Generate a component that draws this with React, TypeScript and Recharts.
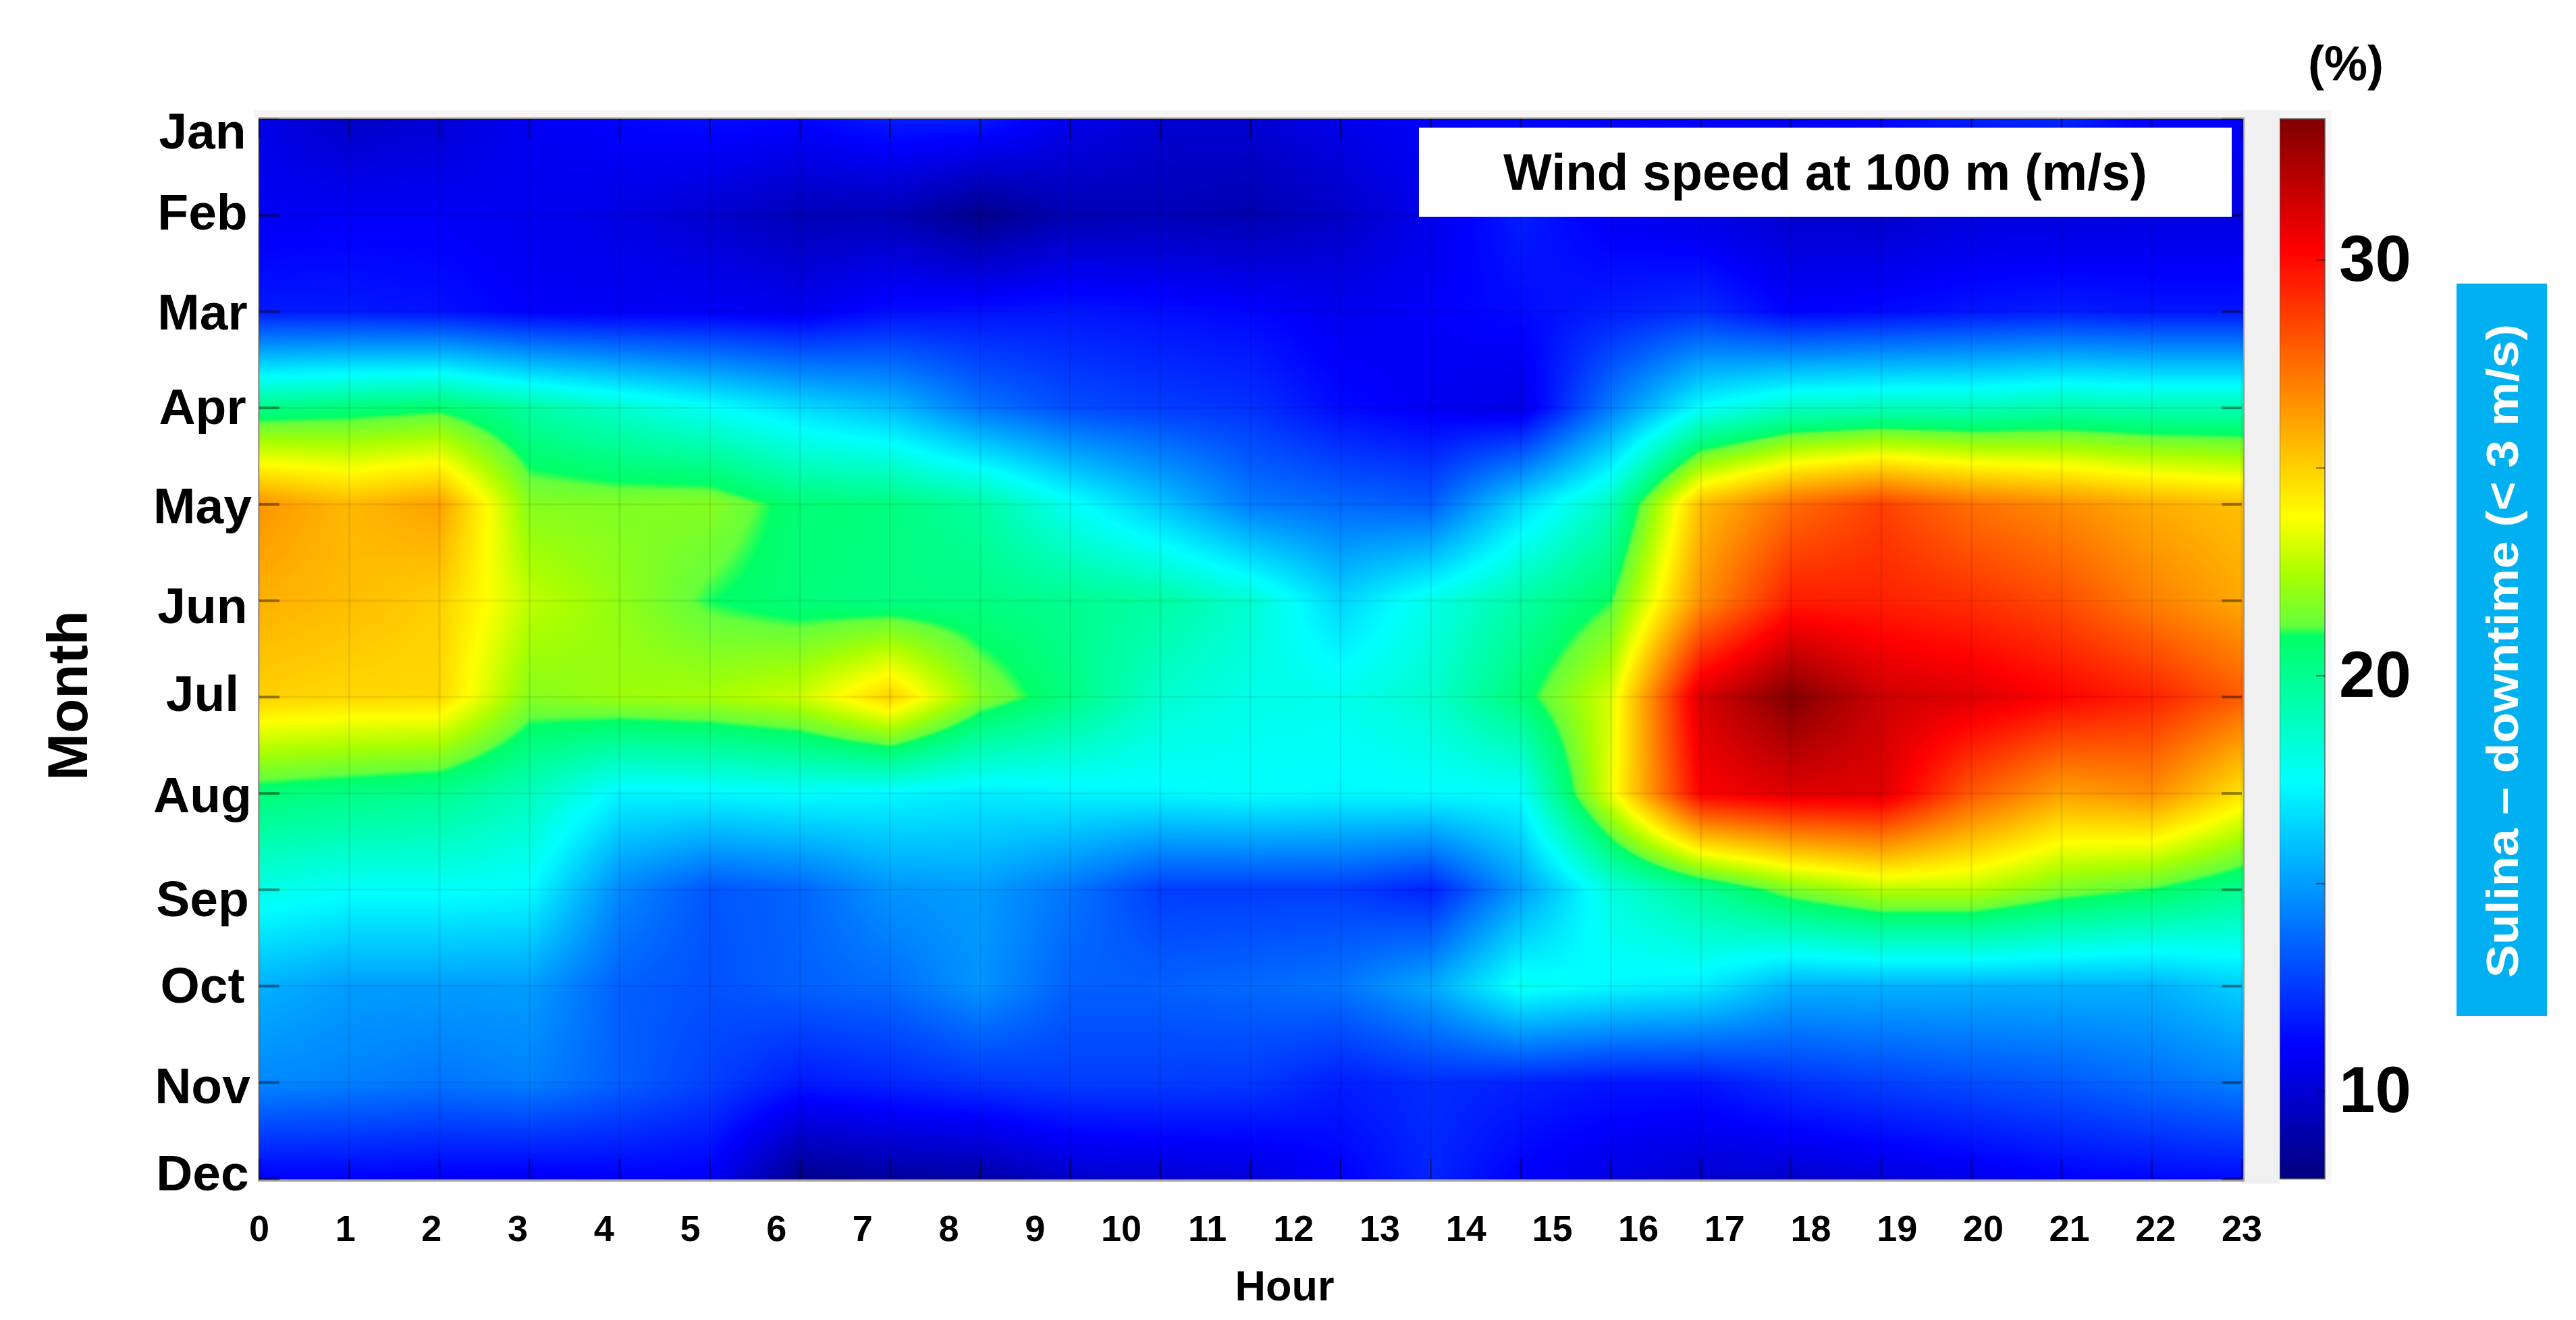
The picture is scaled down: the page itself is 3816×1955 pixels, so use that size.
import React from 'react';
import { ScatterChart, Scatter, XAxis, YAxis, BarChart, Bar } from 'recharts';

// downtime (%), one list per month, 23 columns
const jan = [10.5, 9.7, 10, 10.8, 11.2, 11.4, 11.2, 11.8, 11.8, 10.6, 10, 10, 10.6, 11, 11.2, 11, 11, 10.8, 11.3, 11.8, 12, 11, 11];
const feb = [10.8, 10.9, 10.9, 10.7, 10.4, 9.9, 9.3, 9.3, 8.2, 9.2, 9.3, 9.1, 9.7, 10.6, 11.8, 10.8, 10.4, 9.9, 9.8, 10.2, 10.2, 10.3, 10.3];
const mar = [11.7, 11.7, 11.5, 11, 10.9, 10.9, 10.7, 11.4, 11.5, 11.6, 11.4, 11.2, 10.7, 11, 11.3, 11.8, 12.2, 11.1, 11.3, 11.6, 11.8, 11.6, 11.6];
const apr = [20.2, 20.5, 20.8, 19.6, 18.6, 17.6, 16.6, 15.8, 14, 13, 12.6, 12.3, 11.3, 10.8, 10.4, 14.2, 17.5, 18.8, 19, 19, 19.4, 19.2, 19.2];
const may = [26.5, 25.6, 26.2, 21.8, 21.7, 21.8, 20.6, 20.4, 19.6, 17.7, 16, 14.2, 13.7, 13.4, 16.5, 19, 25.5, 27.5, 28.6, 27.4, 26.7, 25.9, 25.4];
const jun = [25.8, 25.5, 25, 22.8, 22, 21, 20.5, 20.3, 20.3, 20, 19.6, 18.5, 16.4, 18, 19.5, 21, 26.6, 29.5, 29.4, 29, 28.3, 27, 26];
const jul = [25, 24.8, 24.8, 21.8, 22.2, 22.4, 23, 25, 21.8, 20.3, 18.6, 18, 17.9, 18.6, 20.6, 23.2, 31.2, 33.4, 31.5, 31, 30.2, 29.4, 27.9];
const aug = [20.6, 20.3, 20, 19, 17.2, 17.3, 17.5, 17.3, 17, 17.2, 17.3, 17.5, 17.3, 17.4, 17.5, 23.5, 30.3, 31, 31, 28, 26.2, 26.7, 24.5];
const sep = [18, 17.6, 17.6, 17.4, 14.5, 13.2, 13.6, 14.8, 15, 14, 12.6, 12.6, 12.6, 11.9, 15, 18.2, 19.8, 21.6, 22.7, 22.7, 21.6, 21, 20];
const oct = [15.5, 15, 15, 15, 13.5, 13.1, 13.5, 13.8, 14.8, 13.5, 13.5, 13.7, 14, 15.3, 17.8, 17.3, 17, 15.5, 15.5, 15.5, 15.5, 15.5, 16.3];
const nov = [14.5, 14.3, 14, 14.3, 13.5, 12.7, 11.7, 12, 12.4, 12.6, 12.6, 12.5, 11.8, 12.2, 11.9, 11.6, 11.6, 12.3, 12.7, 13, 13.3, 13.8, 14.3];
const dec = [11, 11, 10.9, 10.8, 11, 10.9, 8.2, 8.7, 8.8, 9.8, 10, 10.2, 11, 12, 11, 10.4, 9.9, 9.9, 10.2, 10.6, 11, 11.2, 11.3];

const months = ['Jan', 'Feb', 'Mar', 'Apr', 'May', 'Jun', 'Jul', 'Aug', 'Sep', 'Oct', 'Nov', 'Dec'];
const hours = [0, 1, 2, 3, 4, 5, 6, 7, 8, 9, 10, 11, 12, 13, 14, 15, 16, 17, 18, 19, 20, 21, 22, 23];
const columns = [0, 1, 2, 3, 4, 5, 6, 7, 8, 9, 10, 11, 12, 13, 14, 15, 16, 17, 18, 19, 20, 21, 22];
const rows = [0, 1, 2, 3, 4, 5, 6, 7, 8, 9, 10, 11];
const grid = [jan, feb, mar, apr, may, jun, jul, aug, sep, oct, nov, dec];

// month labels were placed by hand in the original, they sit off their ticks
const monthNudge = [18, -5, 1, -2, 2, 7, -5, 2, 13, -2, 5, -9];

const scaleTicks = [10, 15, 20, 25, 30];
const scaleRange = [7.9, 33.4];
const scaleStops = [
  { at: 0, color: '#00007f' },
  { at: 0.125, color: '#0000ff' },
  { at: 0.375, color: '#00ffff' },
  { at: 0.512, color: '#00ff66' },
  { at: 0.522, color: '#66ff3c' },
  { at: 0.57, color: '#a8ff00' },
  { at: 0.625, color: '#ffff00' },
  { at: 0.875, color: '#ff0000' },
  { at: 1, color: '#800000' },
];

const FONT = '"Liberation Sans", Arial, sans-serif';
const WIDTH = 3816;
const HEIGHT = 1955;
const LEFT = 384;
const TOP = 176;
const PLOT_W = 2937;
const PLOT_H = 1570;
const STEP_X = PLOT_W / (columns.length - 1);
const STEP_Y = PLOT_H / (rows.length - 1);

const cellData = rows.flatMap((monthIndex) =>
  columns.map((hourIndex) => ({ hourIndex, monthIndex, value: grid[monthIndex][hourIndex] })),
);
const hourData = hours.map((hour) => ({ hour, monthIndex: 0 }));

const stopRgb = scaleStops.map((s) => {
  const n = parseInt(s.color.slice(1), 16);
  return [(n >> 16) & 255, (n >> 8) & 255, n & 255];
});

function colorFor(v: number) {
  const t = Math.min(1, Math.max(0, (v - scaleRange[0]) / (scaleRange[1] - scaleRange[0])));
  let k = 0;
  while (k < scaleStops.length - 2 && t > scaleStops[k + 1].at) k++;
  const f = (t - scaleStops[k].at) / (scaleStops[k + 1].at - scaleStops[k].at);
  return stopRgb[k].map((c, j) => c + (stopRgb[k + 1][j] - c) * f);
}

// shaded patch between one grid node and its right/lower neighbours
function patchImage(col: number, row: number) {
  const w = Math.ceil(STEP_X) + 1;
  const h = Math.ceil(STEP_Y) + 1;
  const canvas = document.createElement('canvas');
  canvas.width = w;
  canvas.height = h;
  const ctx = canvas.getContext('2d');
  const img = ctx.createImageData(w, h);
  const a = grid[row][col];
  const b = grid[row][col + 1];
  const c = grid[row + 1][col];
  const d = grid[row + 1][col + 1];
  for (let py = 0; py < h; py++) {
    const v = Math.min(1, (py + 0.5) / STEP_Y);
    for (let px = 0; px < w; px++) {
      const u = Math.min(1, (px + 0.5) / STEP_X);
      const val = a * (1 - u) * (1 - v) + b * u * (1 - v) + c * (1 - u) * v + d * u * v;
      const rgb = colorFor(val);
      const i = (py * w + px) * 4;
      img.data[i] = rgb[0];
      img.data[i + 1] = rgb[1];
      img.data[i + 2] = rgb[2];
      img.data[i + 3] = 255;
    }
  }
  ctx.putImageData(img, 0, 0);
  return { href: canvas.toDataURL(), w, h };
}

function HeatCell(props: any) {
  const { cx, cy, payload } = props;
  const { hourIndex, monthIndex } = payload;
  if (hourIndex === columns.length - 1 || monthIndex === rows.length - 1) return null;
  const p = patchImage(hourIndex, monthIndex);
  return <image x={Math.round(cx)} y={Math.round(cy)} width={p.w} height={p.h} href={p.href} />;
}

function ColumnTick(props: any) {
  const { x, y } = props;
  return (
    <g>
      <line x1={x} x2={x} y1={y} y2={y - PLOT_H} stroke="rgba(0,0,0,0.08)" strokeWidth={3} />
      <line x1={x} x2={x} y1={y} y2={y - 29} stroke="rgba(0,0,0,0.45)" strokeWidth={2.5} />
      <line x1={x} x2={x} y1={y - PLOT_H} y2={y - PLOT_H + 29} stroke="rgba(0,0,0,0.45)" strokeWidth={2.5} />
    </g>
  );
}

function HourTick(props: any) {
  const { x, y, payload } = props;
  return (
    <text x={x} y={y + 72} textAnchor="middle" dominantBaseline="central" fontFamily={FONT} fontWeight="bold" fontSize={54} fill="#000">
      {payload.value}
    </text>
  );
}

function MonthTick(props: any) {
  const { x, y, payload } = props;
  const i = payload.value;
  return (
    <g>
      <line x1={x} x2={x + PLOT_W} y1={y} y2={y} stroke="rgba(0,0,0,0.07)" strokeWidth={3} />
      <line x1={x} x2={x + 30} y1={y} y2={y} stroke="rgba(0,0,0,0.4)" strokeWidth={4} />
      <line x1={x + PLOT_W - 30} x2={x + PLOT_W} y1={y} y2={y} stroke="rgba(0,0,0,0.4)" strokeWidth={4} />
      <text x={x - 84} y={y + monthNudge[i]} textAnchor="middle" dominantBaseline="central" fontFamily={FONT} fontWeight="bold" fontSize={75} fill="#000">
        {months[i]}
      </text>
    </g>
  );
}

function ScaleTick(props: any) {
  const { x, y, payload } = props;
  const showLabel = payload.value % 10 === 0;
  return (
    <g>
      <line x1={x - 13} x2={x} y1={y} y2={y} stroke="rgba(0,0,0,0.4)" strokeWidth={2.5} />
      {showLabel && (
        <text x={x + 21} y={y - 3} textAnchor="start" dominantBaseline="central" fontFamily={FONT} fontWeight="bold" fontSize={96} fill="#000">
          {payload.value}
        </text>
      )}
    </g>
  );
}

const abs = (left: number, top: number, width: number, height: number): React.CSSProperties => ({
  position: 'absolute',
  left,
  top,
  width,
  height,
});

export default function App() {
  return (
    <div style={{ ...abs(0, 0, WIDTH, HEIGHT), background: '#fff', overflow: 'hidden', fontFamily: FONT }}>
      {/* light grey panel behind the axes */}
      <div style={{ ...abs(376, 163, 3078, 13), background: '#f5f5f5' }} />
      <div style={{ ...abs(3321, 163, 56, 1590), background: '#f0f0f0' }} />
      <div style={{ ...abs(3444, 163, 10, 1590), background: '#f6f6f6' }} />

      <div style={abs(0, 0, WIDTH, HEIGHT)}>
        <ScatterChart width={WIDTH} height={HEIGHT} margin={{ top: TOP, right: WIDTH - LEFT - PLOT_W, bottom: 0, left: 0 }}>
          <XAxis
            xAxisId="column"
            type="number"
            dataKey="hourIndex"
            domain={[0, columns.length - 1]}
            ticks={columns}
            interval={0}
            height={1}
            axisLine={false}
            tickLine={false}
            tickSize={0}
            tickMargin={0}
            tick={<ColumnTick />}
          />
          <XAxis
            xAxisId="hour"
            type="number"
            dataKey="hour"
            domain={[0, 23]}
            ticks={hours}
            interval={0}
            height={HEIGHT - TOP - PLOT_H - 1}
            axisLine={false}
            tickLine={false}
            tickSize={0}
            tickMargin={0}
            tick={<HourTick />}
          />
          <YAxis
            type="number"
            dataKey="monthIndex"
            reversed
            domain={[0, rows.length - 1]}
            ticks={rows}
            interval={0}
            width={LEFT}
            axisLine={false}
            tickLine={false}
            tickSize={0}
            tickMargin={0}
            tick={<MonthTick />}
          />
          <Scatter xAxisId="column" data={cellData} shape={<HeatCell />} isAnimationActive={false} />
          <Scatter xAxisId="hour" data={hourData} shape={() => null} isAnimationActive={false} />
        </ScatterChart>
      </div>

      <div style={abs(3377, 0, 250, HEIGHT)}>
        <BarChart
          width={250}
          height={HEIGHT}
          data={[{ name: 'scale', span: scaleRange }]}
          margin={{ top: TOP, right: 0, bottom: HEIGHT - TOP - PLOT_H, left: 0 }}
          barCategoryGap={0}
        >
          <defs>
            <linearGradient id="scaleFill" x1="0" y1="1" x2="0" y2="0">
              {scaleStops.map((s) => (
                <stop key={s.at} offset={s.at} stopColor={s.color} />
              ))}
            </linearGradient>
          </defs>
          <XAxis dataKey="name" hide />
          <YAxis
            orientation="right"
            type="number"
            domain={scaleRange}
            ticks={scaleTicks}
            interval={0}
            width={183}
            axisLine={false}
            tickLine={false}
            tickSize={0}
            tickMargin={0}
            tick={<ScaleTick />}
          />
          <Bar dataKey="span" fill="url(#scaleFill)" stroke="rgba(90,90,90,0.7)" strokeWidth={2} isAnimationActive={false} />
        </BarChart>
      </div>

      {/* plot frame */}
      <div style={{ ...abs(LEFT - 2, TOP - 2, PLOT_W + 2, PLOT_H + 2), border: '2px solid rgba(130,120,110,0.75)' }} />

      <div
        style={{
          ...abs(2102, 189, 1204, 132),
          background: '#fff',
          color: '#000',
          fontWeight: 'bold',
          fontSize: 76,
          lineHeight: '132px',
          textAlign: 'center',
          whiteSpace: 'nowrap',
        }}
      >
        Wind speed at 100 m (m/s)
      </div>

      <div style={{ ...abs(3400, 50, 150, 88), color: '#000', fontWeight: 'bold', fontSize: 72, lineHeight: '88px', textAlign: 'center' }}>
        (%)
      </div>

      <div style={{ ...abs(1753, 1868, 300, 72), color: '#000', fontWeight: 'bold', fontSize: 63, lineHeight: '72px', textAlign: 'center' }}>
        Hour
      </div>

      <div
        style={{
          position: 'absolute',
          left: 100,
          top: 1030,
          transform: 'translate(-50%, -50%) rotate(-90deg)',
          color: '#000',
          fontWeight: 'bold',
          fontSize: 84,
          lineHeight: 1,
          whiteSpace: 'nowrap',
        }}
      >
        Month
      </div>

      <div style={{ ...abs(3639, 420, 134, 1085), background: '#00b0f0' }}>
        <div
          style={{
            position: 'absolute',
            left: 67,
            top: 544,
            transform: 'translate(-50%, -50%) rotate(-90deg) scaleX(1.1)',
            color: '#fff',
            fontWeight: 'bold',
            fontSize: 67,
            lineHeight: 1,
            whiteSpace: 'nowrap',
          }}
        >
          Sulina – downtime (&lt; 3 m/s)
        </div>
      </div>
    </div>
  );
}
